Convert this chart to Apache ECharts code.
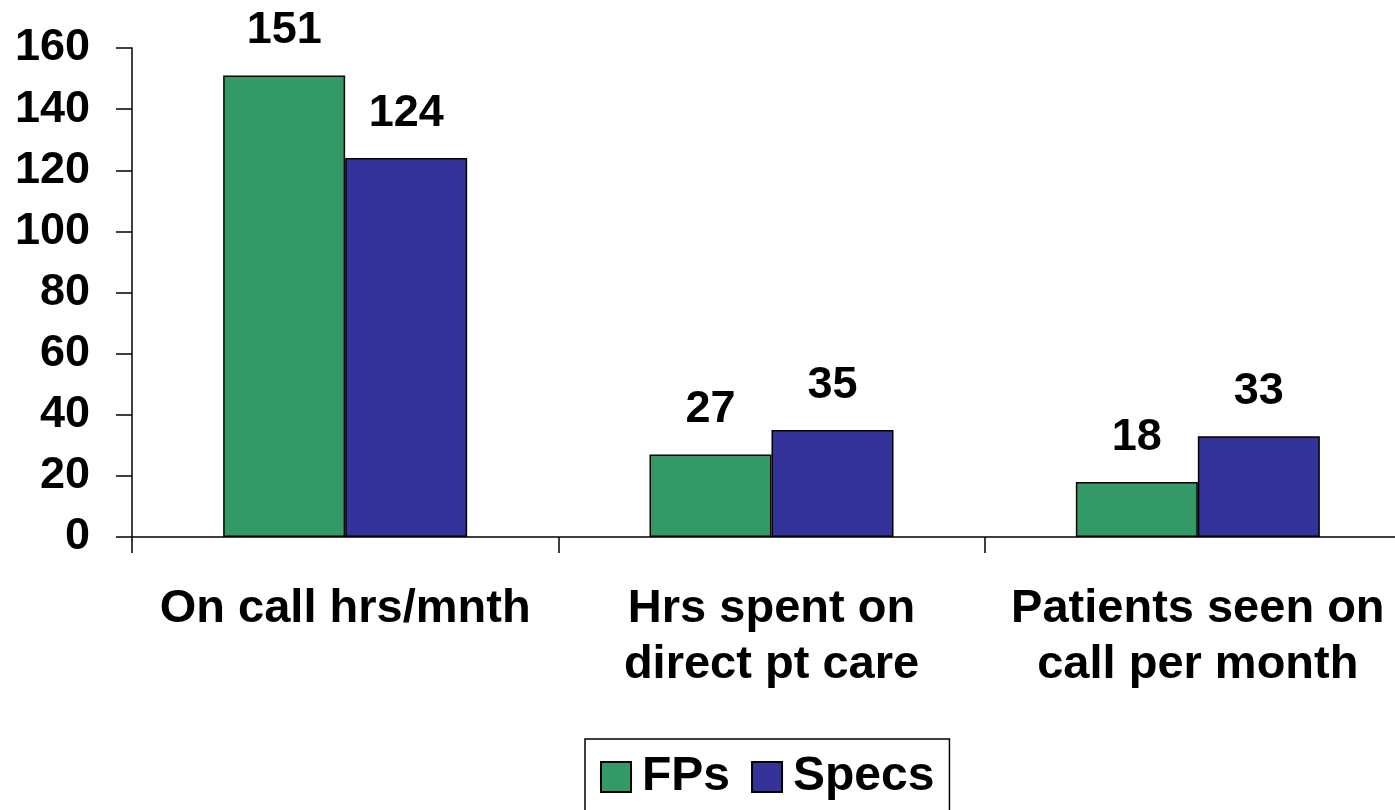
<!DOCTYPE html>
<html>
<head>
<meta charset="utf-8">
<script src="https://cdn.jsdelivr.net/npm/echarts@6/dist/echarts.min.js"></script>
<style>
html, body { margin: 0; padding: 0; background: #fff; }
#chart { width: 1395px; height: 810px; }
</style>
</head>
<body>
<div id="chart"></div>
<script>
// chart data
const categories = ['On call hrs/mnth', 'Hrs spent on\ndirect pt care', 'Patients seen on\ncall per month'];
const fpsValues = [151, 27, 18];
const specsValues = [124, 35, 33];
const yTicks = { min: 0, max: 160, interval: 20 };

const font = '"Liberation Sans", Arial, sans-serif';

const chart = echarts.init(document.getElementById('chart'));

const barLabel = {
    show: true,
    position: 'top',
    distance: 22,
    color: '#000',
    fontFamily: font,
    fontWeight: 'bold',
    fontSize: 45
};

const option = {
    backgroundColor: '#fff',
    animation: false,
    grid: {
        left: 132,
        right: -16,
        top: 48,
        bottom: 273,
        containLabel: false,
        outerBoundsMode: 'none'
    },
    legend: {
        left: 585,
        top: 739,
        padding: [14, 15, 14, 15],
        itemWidth: 30,
        itemHeight: 30,
        itemGap: 21,
        borderColor: '#000',
        borderWidth: 1.5,
        icon: 'rect',
        textStyle: {
            color: '#000',
            fontFamily: font,
            fontWeight: 'bold',
            fontSize: 48,
            lineHeight: 41,
            padding: [0, 0, 0, 6]
        },
        data: ['FPs', 'Specs']
    },
    xAxis: {
        type: 'category',
        data: categories,
        axisLine: { lineStyle: { color: '#000', width: 1.5 } },
        axisTick: { show: true, length: 16, lineStyle: { color: '#000', width: 1.5 } },
        axisLabel: {
            interval: 0,
            margin: 44,
            color: '#000',
            fontFamily: font,
            fontWeight: 'bold',
            fontSize: 47,
            lineHeight: 56
        }
    },
    yAxis: {
        type: 'value',
        min: yTicks.min,
        max: yTicks.max,
        interval: yTicks.interval,
        splitLine: { show: false },
        axisLine: { show: true, lineStyle: { color: '#000', width: 1.5 } },
        axisTick: { show: true, length: 16, lineStyle: { color: '#000', width: 1.5 } },
        axisLabel: {
            margin: 42,
            color: '#000',
            fontFamily: font,
            fontWeight: 'bold',
            fontSize: 45
        }
    },
    series: [
        {
            name: 'FPs',
            type: 'bar',
            data: fpsValues,
            barWidth: 122,
            barGap: '0%',
            itemStyle: { color: '#339966', borderColor: '#000', borderWidth: 1.5 },
            label: barLabel
        },
        {
            name: 'Specs',
            type: 'bar',
            data: specsValues,
            barWidth: 122,
            barGap: '0%',
            itemStyle: { color: '#333399', borderColor: '#000', borderWidth: 1.5 },
            label: barLabel
        }
    ]
};

chart.setOption(option);
</script>
</body>
</html>
